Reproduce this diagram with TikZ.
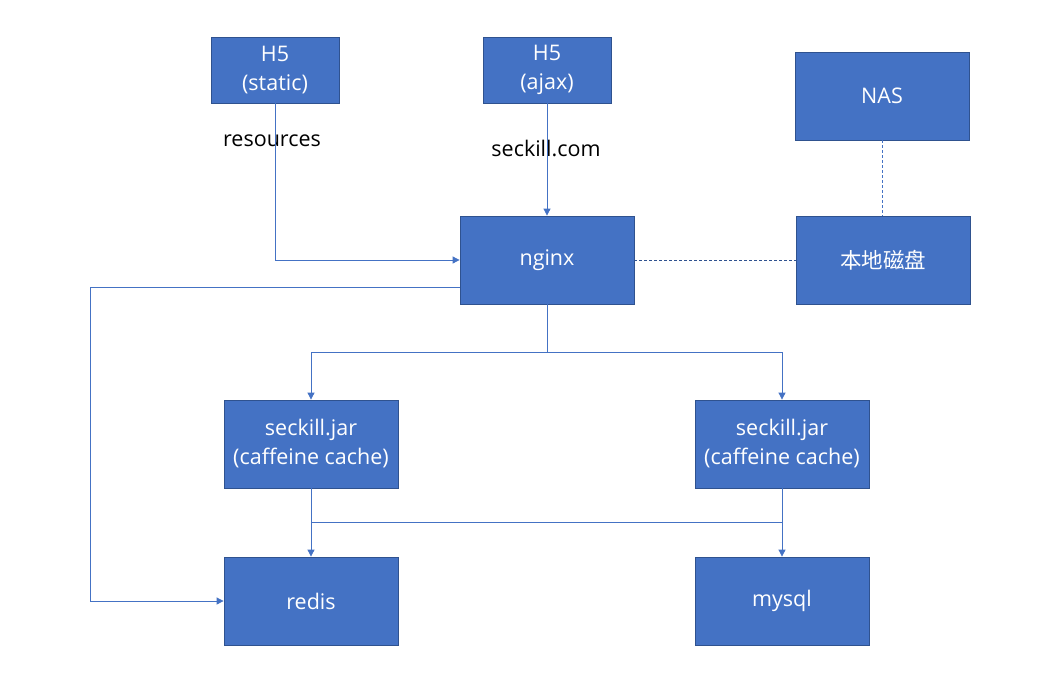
\documentclass[tikz,border=0pt]{standalone}
\usepackage{fontspec}
\setmainfont{Open Sans}
\newfontfamily\cjk{Noto Sans CJK SC}
\usetikzlibrary{arrows.meta}
\definecolor{boxblue}{HTML}{4472C4}
\definecolor{boxedge}{HTML}{2F528F}
\tikzset{
  box/.style={draw=boxedge, fill=boxblue, text=white, minimum width=174pt, minimum height=88pt, align=center, font=\fontsize{21.5}{29}\selectfont, line width=0.8pt},
  smallbox/.style={box, minimum width=128pt, minimum height=66pt},
  link/.style={draw=boxblue, line width=0.8pt, -{Triangle[length=7pt,width=7pt]}},
  tie/.style={draw=boxblue, line width=0.8pt},
  dot/.style={draw=boxedge, line width=0.7pt, dash pattern=on 3pt off 2pt},
  lbl/.style={font=\fontsize{21.5}{29}\selectfont, text=black}
}
\begin{document}
\begin{tikzpicture}[x=1pt, y=-1pt]
  \useasboundingbox (0,0) rectangle (1048,678);
  \node [smallbox] (static) at (275,70) {H5\\(static)};
  \node [smallbox] (ajax) at (547,70) {H5\\(ajax)};
  \node [box] (nas) at (882,96) {NAS};
  \node [box] (nginx) at (547,260) {nginx};
  \node [box] (disk) at (883,260) {\cjk 本地磁盘};
  \node [box] (jarl) at (311,444) {seckill.jar\\(caffeine cache)};
  \node [box] (jarr) at (782,444) {seckill.jar\\(caffeine cache)};
  \node [box] (redis) at (311,601) {redis};
  \node [box] (mysql) at (782,601) {mysql};

  \node [lbl] (res) at (272,141) {resources};
  \node [lbl] (dom) at (546,148) {seckill.com};

  \draw [link] (static.south) |- (nginx.west);
  \draw [link] (ajax.south) -- (nginx.north);
  \draw [link] (nginx.west |- 0,287) -| (90,601) -- (redis.west);

  \coordinate (fork) at (547,352);
  \draw [tie] (nginx.south) -- (fork);
  \draw [link] (fork) -| (jarl.north);
  \draw [link] (fork) -| (jarr.north);

  \coordinate (join) at (311,522);
  \draw [tie] (jarl.south) -- (join);
  \draw [tie] (jarr.south) |- (join);
  \draw [link] (join) -- (redis.north);
  \draw [link] (join) -| (mysql.north);

  \draw [dot] (nginx.east) -- (disk.west);
  \draw [dot, draw=boxblue] (nas.south) -- (nas.south |- disk.north);
\end{tikzpicture}
\end{document}
